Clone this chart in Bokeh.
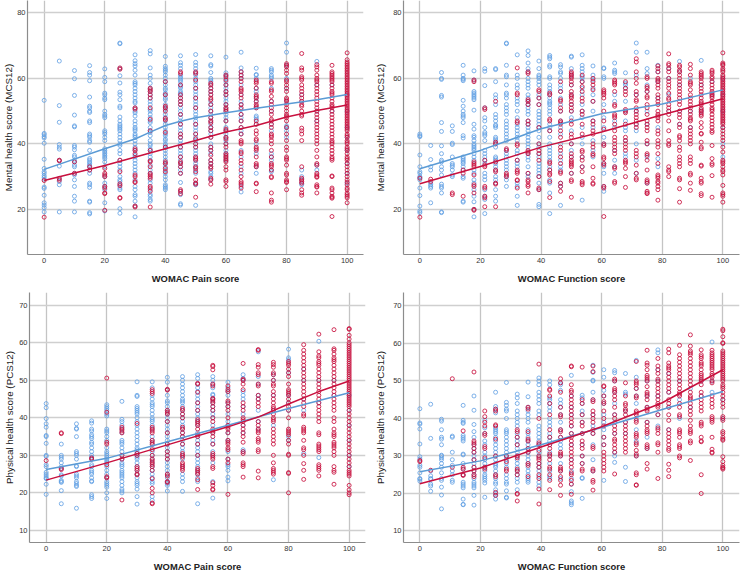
from bokeh.plotting import figure
from bokeh.layouts import column, row
from bokeh.embed import file_html
from bokeh.resources import INLINE

pain_x = [0, 5, 10, 15, 20, 25, 30, 35, 40, 45, 50, 55, 60, 65, 70, 75, 80, 85, 90, 95, 100]
func_x = [0, 3.57, 7.14, 10.71, 14.29, 17.86, 21.43, 25, 28.57, 32.14, 35.71, 39.29, 42.86, 46.43, 50,
          53.57, 57.14, 60.71, 64.29, 67.86, 71.43, 75, 78.57, 82.14, 85.71, 89.29, 92.86, 96.43, 100]

pain_mcs_blue = [
 [53.3,43.2,42.8,42.2,41.8,40.2,35.3,32.5,31.5,31,30.3,29.8,29.2,26.8,26.4,24.3,22,21.3,20.5,19.2],
 [65.3,51.7,46.6,39.8,39,38.4,35,33.2,29.5,28.5,27.5,19.2],
 [62.4,59.9,54.8,48.8,45.5,45.2,39.5,39,38.2,36.5,36,35,34.5,33.5,33,31,30.5,29,27,24,22.5,19.2],
 [63.9,61.8,61,59.3,54.3,51.5,51,50,49.6,47,46.5,43,42.5,42,41,40.5,38,35.5,35,34.5,34,33.5,33,32,31,28,27.5,26.7,22.5,22.2,19,18.6],
 [62.9,60.3,59,55.5,55,54,53.5,50,49,48.5,48,44,43.5,43,42,41,38.5,38,37.5,37,36.5,36,35.5,34.5,33,30,28,27,26,22,19.5],
 [70.8,70.6,63,60.8,58.6,55.8,55,53.5,51.5,51,48.2,47,46,45.5,45,44.5,44,43,42,41,40,39.5,38,37,35,34,33,32,30,29,28.5,27.5,26.5,26,20.2,18.8],
 [67.2,65.4,64.5,63.8,62.5,61,59,58.5,58,57,56,55,54,53,52.5,51,50,49.5,48.5,47,46,45,44.5,44,43,42.5,42,41,40,39,38,36.5,36,35,34,33,32,31,29,27,26,24.5,24,22.5,21,17.7],
 [68.5,67.5,63.2,61,60,58.5,57,56,55,54,53,52,50.5,50,49,48,47,46.5,45,44,43.5,42.5,41,40,39.5,38.5,38,37,36,35,33.5,32,31,29,28,26,24.5,24,23,22.5],
 [66.7,63.7,63,62.5,62,61,60,59,58,57,56.5,55.5,55,54,53.5,52,51,50.5,49,48,47,46,45,44,43,42.5,41.5,41,40,39.5,39,38,37,36,35,34,33,32,31,30,29,27.5,27,26.5,26],
 [66.9,64.8,64,63,61,60.5,60,59.5,59,58,57.5,57,56,55.5,55,54,53,52,51,50,49,48,47,46,45,44,43,42,41,40,39,38,37,36,35,34,33,32,31,28.2,25.5,24.5,21.7,21.3],
 [67.3,64.9,64,63,61.8,61,60,59,58,57,56,55,54,53,52,51,50,49,48,47,46,45,44,43,42,41,40,39,38,37,36,35,34,33,32,31,28,27.5,21.2],
 [66.9,64.2,63.8,61.8,60,59.5,59,58,57,56,55,53,52,51,50,49,48,47,46,45,44,43,42,40,39,38,37,35,34,33,31.5,31,30,29],
 [66.5,61.7,61,60,59,58,57,56,55,54,53,52,51,50,49,48,47,45,44,43,42,41,40,38,37,36,35],
 [68,63.2,62,61,60,58,55,53,52,50.5,49,48,47,45,44,43,38,36,33,31,27,25.3],
 [63.1,61.2,61,60,57,56,54,53,51,48.5,48,47.5,46,40,37,33,31],
 [63,62.5,62,61,60.5,60,57,53,50,46,44,37,36,35,32,31.5],
 [70.8,68,64,60,57,53,45.5,45,44,42],
 [55,53,32,30,29,28,27.5],
 [65.2,58,50,47,33.5,32],
 [58,50],
 [55,50,45,42,38,34,31,28],
]
pain_mcs_red = [
 [28.8,17.6],
 [35,34.8,29.4,28.9],
 [34.5,31],
 [33,32],
 [32.5,31,30.5,30,27,26.5,25,24.8,19.7],
 [63.2,62.8,35,31.5,27.8,27.2,23.6,23.4],
 [51,50.6,38.5,38,37,30.5,30,28.5,28.2,21,20.7],
 [57,56.5,56,55,54,51,47.5,44,38,34.8,34.5,33,31,30.5,30,29.5,27,26.5,25.5,20.7],
 [59,55,51.5,51,50,47.8,47.3,43.5,39,34.5,34,32.5,31.5],
 [62,61.5,58,55,54,53,52,49,46,43,42,39,36,34.5,34,33,31,26,25.5,24.8],
 [62,61.5,59.5,57,54,51,46,43,41.5,40,39,36,35.5,35,33,32.5,31.5,29,28,27.7,23.7],
 [58.5,58,57,56,55,54,53.5,52,50,48,47,46.5,45,44,42,39,38,36.5,35,34,33,32.5,29.5,29,27.7],
 [61,60.5,59.5,58,56,55,52,51,50.5,50,47,44.5,44,42,41.5,40,39,37,36.5,36,35.5,35,34.5,33,32,29,28.5,27],
 [62,61,60,59,57,56.5,56,55,54,52,51,49,47,45,43,41,40.5,40,37.5,37,35,34,32,30,28.5,28,27.5,26.5],
 [59.5,59,58.5,57,55,54.5,54,53,52,51.5,51,47,46,44,43,41.5,41,39,38.5,38,36,34,33.5,33,28,27.8,25.4],
 [59,58.5,56.5,56,54.5,53,52,51,50,49,47.5,47,46,45,43,42.5,42,41,40,38,36,34,33.5,33,32,30,29.7,25,22.8,22.2],
 [64.5,64,63.5,62.5,61.5,59.5,59,58,57,56,54,53.5,53,52,51,50,49,48.5,48,47,45,43,41,39,38,36,35.5,35,33.5,31,30.5,29,28.5,28.2,26],
 [67.6,63.2,62.5,60.5,60,59.5,58,57,56,55,54,53,52,51.5,50,49,48.5,44.8,44,43,41,33,29.5,29,28.5,28,26,25,24.3],
 [64.2,63.5,62.5,61,60,59.5,59,58,57,56,55,54,53,52,51,50,49,48,47,46,45,44,43,42,41,40,38,36,34,33.5,31,30.5,30,29.8,27.5,27,26.8,25],
 [64,62,61.5,61,60.5,60,59.5,59,58,57,56,55.5,55,54,53,52,51.5,51,50,49,48,47,46,45,44,43,42,41,40.5,40,39,38,37,36,35.5,35,30.2,30,26.5,26,25,24,23.7,23.4,17.8],
 [67.8,65.7,65,64.5,64,63.5,63,62.5,62,61.5,61,60.5,60,59.5,59,58.5,58,57.5,57,56.5,56,55.5,55,54.5,54,53.5,53,52.5,52,51.5,51,50.5,50,49.5,49,48.5,48,47.5,47,46.5,46,45.5,45,44.5,44,43,42.5,42,41,40.5,40,39,38.5,38,37,36,35.5,35,34,33,32,31,30,29,28.3,27.5,26.5,26,25,24.5,24,23.5,22],
]
func_mcs_blue = [
 [43,42.5,42.2,36.6,33,31.5,31,30,29.7,29,26.5,24.2,21,19.5,19],
 [39.5,35.2,33,32,28,27.5,27,26.5,22],
 [61.8,60,59.7,54.8,54.3,46.5,43.8,39.4,37,35,34.5,33,32,30.5,27.7,27,26.5,25,19.2,19],
 [45.5,43.8,40.2,39.8,36,34,33.5,33,32,30.5,30],
 [64,61,60,59.7,59.3,53.3,51.5,50,49,48.5,48,46.5,42.5,41.8,36,35.5,35,34.5,34,33,32,30,29.5,22.5,22.2],
 [62.3,59.5,56,55.5,55,54.5,54,53.5,50.3,46,44.5,42.5,42,41,40,39.5,39,38.5,38,37,36,35,32,31,29,28,26,24,22.3,20,17.7],
 [63,62.2,57.8,51,48,47,45,43.5,43,42.5,41,38,37,36,35,34,31,30,29,26,24,23,18.7],
 [63,62.7,59,55,54,52,49,48,47,45.8,45.5,45,42,41.5,41,40,39,36,35.5,35,34,33,32,30,29,28,26,24,22.5],
 [70.8,70.6,64,61,60.5,58,55.5,55,54,52,51,50,49,47,46,45,44,43,42,41,38,37,36,35,34,33,32,30,29,27],
 [67.2,61,60,58,57,54,53,52,50,48,46,45,44,43,42,41,38,37,35,34,33,28,27,24,21.2],
 [68.4,67,64.7,63,62,60,59,58,57,55,54,53,52,51,50,49,47,46,45,44,43,42,41,40,39,37,36,35,33,31,30],
 [65.3,63,61,60.5,60,59,58,55,54,52,50,49,48,47,46,45,44,42,40,39,37,36,34,33,32,31,30,28,26,21.5,20.8],
 [67,66.5,66,64,63.5,60.5,60,58,57,56,55,54,53,52.5,52,51,50,49,46,45,44,42,40,39,38,37,36,35,33,32,29,28,25,18.7],
 [64.2,63.5,62,61.5,60,58,57,56,54,52,50,47,45,43,40,37,35,33,32,28,27,21.2],
 [66.8,66.5,63,61,58,55,52,50,48,44,40,38,36,31],
 [67.2,64,63,62,60.5,60,59,57,55,52,50,48,45,42,40,36,33,22.8],
 [63.8,61,59.5,57,55,53,50,47,45,41,38,36],
 [63.2,63,60.5,60,52,48,45,42,40,34,33,31,27,25.5],
 [64.7,62.5,62,61.5,55,53,47,45,38,35,33,31],
 [61.7,58.5,58,57,53,50,47,45,44,41,37,36],
 [70.8,68,61,55,50,46,44,40,35,31],
 [68,63,61.5,58,56,50,46,40,36,28],
 [64,62,59,54,45,35.5,33],
 [63,60,55,50],
 [65.2,62,58,50,46],
 [60,50,45],
 [65.5,58,50],
 [59,55],
 [60,55,50,45,40,36],
]
func_mcs_red = [
 [29.5,17.6],
 [29.2,28.5],
 [],
 [25,24.5],
 [32,31,24],
 [59.5,59,34.5,34,33.5,33,30.5,27.5,27,25,20,19.7],
 [51,50.5,35,33.5,33,27,26.5,24,23.5,20.8],
 [53,40.5,40,34.5,32,31.5,28,27.7,20.8],
 [38.5,38,31,30.5,30],
 [63.2,55.5,55,47,46.5,40,39.5,35,32,31.5,31,29,28.8,26.5],
 [62,61.5,53.5,53,52,47,46,38,37.5,37,31,29,28.5,27.5,27,25],
 [56.5,56,54,52,45,40,38,37,35,30,26.5,26],
 [55.5,55,47.5,47,44,34.5,34,32,31,30.5,28.5,23.6],
 [59,56,53.5,53,51,50,47,46.5,46,44,42,39,38,36,34,31.5,31,28,27,25.5],
 [62,61.5,61,60.5,60,59,58,56,55,54.5,54,53,52,51,50,47,46,43,42,40,37,36,35,34.5,34,33.5,33,31,29,28.5,23.7],
 [61,59,57.5,56,54,53,50,49,46,43,38,37.5,36,35,33,31.5,28.5,28,27.5],
 [60,59,58,56.5,53,47,46,44,43,40,39,37,36.5,33,29.5,28,27.7],
 [56.5,56,55.5,55,54,50,47,44.5,40,39.5,36,35.5,34,33.5,27,26.5,17.8],
 [59.5,59,58.5,58,56,52,51.5,49,48.5,48,46,44,42,41,40,39,38,37,33,32.5,28.5,28],
 [59,57,56,55,50.5,50,49.5,46,42,41,40,39,38,35,34.5,34,32.5,30,26.7],
 [66,65,62,60,58.5,56,55,53.5,53,51,50,49,48,47,46,45,38,37,36,33.5,31,29.5,29],
 [60.5,60,57.5,57,56,54.5,54,52,51,49,47,46,45,44,41,40,37,36.5,35,32,29,28.5,28,25.5,25,24.8],
 [63.8,63,62,60,59.5,59,58,57,55,54,53,52,50,49,48.5,48,47,44,43,41,40,39,37,34,30.5,30,29.5,28.5,28,27,26,22.8],
 [67.5,64.5,64,63,62,60,59,58,57,55.5,54,53.5,52,51,50,49,47,44,41,40,39.5,33,32,31.5,30],
 [64,63.5,62.5,62,61,60,59,58,57,56,55,54,53,52,50,49,48,46,45,42.5,42,41,39,38,36,35,34,33,29.5,29,26.3,22.2],
 [64.3,63,61,59,58.5,58,56.5,55,54,53,52,51,50,49,48,47.5,47,45,44,43,42,41,40,36,35,34,31,30.5,28,25.8],
 [62,61.5,61,60.5,60,59,58,57,56,55,54,53,52.5,52,51,50.5,50,49.5,49,48.5,46.5,45,43.2,43,40.5,39,38.5,33.5,33.2,29.5,28.5,28,24.8,24.2],
 [62.5,62,61.5,60.5,60,59,58,57,56,55.5,55,54.5,54,53,52,51,50.5,50,49,48,47,46,45,44,43.5,39.5,35.5,34,33.5,30.3,23.7],
 [67.8,64.7,64.3,64,63,62.5,62,61,60.5,60,59.5,59,58.5,58,57.5,57,56.5,56,55.5,55,54.5,54,53.5,53,52.5,52,51.5,51,50.5,50,49.5,49,48.5,48,47.5,47,46.5,46,45,44,43,42,41,39,37.5,35,34.5,34,33,32,31.5,30.5,27.3,25,24.5,24,22.2],
]
pain_pcs_blue = [
 [43.8,42.7,39.8,38.4,37.5,35.3,35,33.2,30,29.7,27.5,27,25.5,25,24.5,24,23.8,22.3,19.6],
 [33,30,29.5,29,28,27,26.5,24.8,24.5,23.3,23,22.8,20.6,17.1],
 [38.4,37.2,37,35,31,30.5,30,29,27.2,27,25,24.5,24,23,22.5,22,21.7,15.9],
 [39.2,38.6,37,36.5,35.5,35,34.5,33.5,33,32,31,30,29.5,29,27.5,27,26,25.5,25,24,23.2,23,19.5,19,18.5],
 [43.5,43,42.5,42,41,40.5,37,36.5,36,35,34,32,31,30.5,30,29.5,29,28.5,28,27,26,25,24,23,22.5,22,21.5,20,18.5],
 [44.4,39.6,39,38,37,36,34,33.5,33,32,31,30,29,28,27.5,27,26,25.5,25,24.5,24,23,22,21,20.5,20],
 [49.6,46,45.7,43,42.5,42,41.5,41,40,39,38,37,36,35,34,33,32,31.5,31,30.5,30,29.5,29,28,27,26,25,24,23,22.5,22,21,19,17],
 [49.6,48,46,45,44,43.5,43,42,41,40,39.5,39,38,37,35,34,33,32,31,30,29,28,27,26,25,24,23,22.5,19,18],
 [50.8,49.5,47.5,46,44.5,44,43,42,41,40,39,38,37,36,35,34,33,32,31,30,29,28,27,26,25,24,23,22.5,22,20.5],
 [51,50,49,48,47,46,45,44.5,44,43,42,41,40,39,38,37,36,35,34,33,32,31,30,29,27,25,24,23,20.4],
 [51.5,50.5,49,48,47,46,45,44,43,42,41,40,39,38,36,35,34,33,32,31,30,29,28,27,26,25,24,23,17.1],
 [51,50,49,48,46.3,46,45,44,43,42,41,40,38,36,34,33,31,30,28,23,18.6],
 [49.5,48,47,46,44,43,41,39,38,36,34,31,29,27.5,27,26,24.2,23.2],
 [51.5,50.5,50,47,46,45,43,41,38,36,31.5,31],
 [57.6,51,49,46,45,42,39,37],
 [51.5,50,46,42,38,23.5],
 [58.3,56,55.5,52,46,44,42,35,34],
 [53,50,45,42,30.5],
 [60.4,50,44,29.4],
 [50,46],
 [46,42,38,34,30,27],
]
pain_pcs_red = [
 [28.6],
 [36,35.8,26.5,26.2],
 [],
 [29.3,29],
 [50.6,41.5,33.5,33,27.5,24.3,24],
 [37.5,37,36.5,36,30,29,18.1],
 [38.5,30.5,30,27,26.5,26,25,24.8],
 [47.5,47,46.5,37.5,37,36.5,36,34,33.5,33,31.5,30,29,28.5,28,27.5,27,26,23.8,21.2,20,17.3,17.1],
 [47.6,47.4,42,41.5,41,39,36,33,31,30,29,25,24.5,23,22.8],
 [42.5,42,41,40,37.5,37,36,35,33,30.5,30,29.5,28,27.5,27,26.5,26],
 [49.2,49,46.8,44,42,39.5,39,38.5,38,37,35.5,35,33,30,26.5,26,25.5,25,23.5,20.9],
 [54,53.7,52.8,49,48.5,45.2,45,44.5,44,43,42,40,39,37,36.5,36,35,33,30.5,30,29.5,29,27,26.5,22.7,22,21,20.8],
 [48.5,47.5,47,44.5,44,43,42,40,38,37.5,37,36,34,33.5,33,32,31.5,29,28,19.6],
 [54.5,50.3,50,49,47.5,44,43,42,40,39.5,39,38,37,36,35,33.5,31,30.5,28,27.5,27,24.2],
 [58.2,58,54.2,53.5,52,51.5,49,48.5,46,45,44,43,39,38,37,36.5,36,34.5,34,33.5,31.5,31,25.8,24],
 [54.8,54.2,53.5,52,51.5,50,49,48.5,47,46,45,44,43,42.5,42,41,40,39.5,39,37,36,35,34,33,30,28,26.5,26,25.5,25],
 [55,54.5,54,53,52,51,49,47.5,47,46.5,46,45,44,43,42,40,37,36.5,36,35.5,34,33,30.3,30,25.4,25.2,20],
 [59.5,58,57,56,55,54,53,52,51,50,49,48,47,46,45,44,43,41,40.5,37.5,37,36.5,36,34,32,31.5,30,27.8,26,23.6],
 [62.3,57.6,56.5,56,55,54.5,54,53,52,51,50,49,48,47,46,45,44,43,42,41,40,39,36,35.5,33,32.5,32,31.5,31,27.5,27,26.5,26,24.5],
 [63.5,58.4,58,57,56,55.5,55,54,53,52,51,50,49,48,47,46,45,44,43,42,40,39,37,36,35.5,35,33.5,33,32.5,32,31,30,27,26,25.5,22.3],
 [63.8,63.6,62,61,60,59.5,59,58.5,58,57.5,57,56.5,56,55.5,55,54.5,54,53.5,53,52.5,52,51.5,51,50.5,50,49.5,49,48.5,48,47.5,47,46.5,46,45.5,45,44.5,44,43.5,43,42,41,40,39,38,37,36,35,34,33,32,31,30,29,28,27,26,25.5,25,24.5,22,20.8,20,19.5],
]
func_pcs_blue = [
 [42.6,38.8,38.5,37.2,33.2,29.8,29.2,27.5,27,25.5,24,23.8,23.3],
 [43.8,34.7,26,24.7,24,23.8,22.5,22,20.6],
 [39.8,39.3,37,35,34.5,33,30.2,30,29.5,29,28,27,25.5,24,23.5,21.7,19.6,15.9],
 [35.3,35,31,29,27.5,26,25,23.5,23],
 [43.5,39.5,39,38.7,35.5,35,34.5,34,30.5,30.3,28,26.5,25,23,22.5,22,21.5,18.5,17.1,17],
 [46,42.2,38.4,36.5,35,33,32,31,30,29,28,27,26,25,24,23,22.5,22,21.5,19.5,16.9],
 [39.5,37.5,36,34,33,31,30,29,28,27,26,25,24.5,24,23.5,22.8,19],
 [47,43.2,42.5,41.5,37.5,37,36.5,36,35,34,33,32,31,30,29,28,27.5,27,26,25,24,23,22.5,21,20,19.5,18.5],
 [49.6,44.3,43.5,42.5,42,40,37,36.5,36,35,34,33,32,31,30,29.5,29,28,27,25,24,23,22.5,20.7,19,18.8],
 [46.5,45.5,44,42,41,40,39,38,36,35,34,33,32,31,30,29,28,27,26,25,24,23,21],
 [49.7,45.8,43,42,41,40,39,37,36,35,34,33,32,31,30,29,28,27,26,25,24,23.5,23],
 [50.8,50,49,47,46,45,44,42,41,38,37,36,35,34,33,31,30,28,27,26,24.5,23,22],
 [50,49,45.5,45,44,43,42,40,39,38,36,35,34,33,31,30,28,26,24.5,24],
 [49.5,49,47.5,45,44,43,41,39,37,35,34,33,32,30,28,26,24],
 [51.5,46,43,41,38,36,33,29,26,24,22.5,20.5,18,17.5,17],
 [46.2,45.5,44,42,41,39,36,33,30,28,24.2,24,18.7],
 [54.2,52.3,50.2,50,47,45,41,38,36,33,29,26],
 [53,51,47.5,46,44,41,39,37,35,33,23.5],
 [52.8,52.2,50,47,44,41,39,36,31,30,28.3],
 [52,47,46.5,42,39,36,27,23.2],
 [55.5,51,48,46,44,40,37,34,30],
 [50,46,43,39,35,32],
 [58.3,57.5,53,50,46,41,38],
 [52,47,43,37],
 [50,45,40],
 [48,43],
 [50,46],
 [60.4,50,47],
 [45,40],
]
func_pcs_red = [
 [28.8,28.5],
 [26.2],
 [],
 [50.6,27],
 [36.7,27,26.5,25,24.8],
 [52.4,34,33.5,33,32,31,29,27,26,25,24.5],
 [42,40.5,39,38,36,35.5,32.5,32,29.5,27,26.5],
 [42.5,42,38.3,38,34.5,30,25,24.5,20.3,19.5],
 [30,28.5,26.5,26],
 [37,36.5,35,33,30,29.5,26.5,26,25,20,19.8,18],
 [43,42.5,36.5,34.5,34,32,31,28,27.5,24.5],
 [54.5,40,33.5,33,31.5,30,29.5,29,28,27,25,24,21.2,17.2],
 [47.8,47.5,46,44,41,37,35,33,32,30.5,30,29,27,26.5,25,23.5,21],
 [50.6,49.5,47,43,41,40.5,37,36.5,35,31,30.5,30,27,26.5,26,24.5,23.5,22.2,19.5],
 [54,53.8,49,47.5,47,46,45,44,43,42,41,40,39,38,36,35,34,33,32,31,30,29,28,27,25.5,25,23.5,22.5,19.8],
 [53.7,45,44,41,39,38,36,34,33,32,30,28,26.5,26],
 [54,52.5,45,44.5,42,41,40,39,37,36,32.5,32,26.5,26,23.5,23,20.9],
 [48.7,48.5,46,44.5,44,42,40,38,35,33,31,30,29,28,27,26],
 [50.5,50,48,47.5,47,46,45,43,41,40,38,37,36,34.5,34,33,32,31,25.2],
 [49.5,46,44,43.5,42.5,42,41,39,38,37,36,35,34,33,32,31],
 [55.2,50,49.5,49,48,46,45.5,42,41.5,41,39.5,39,36,35.5,35,33.5,33,31.5,30.5,30,25.5,25,22.3,22.2],
 [58.2,54.8,54.2,53,51.5,51,50.5,50,48.5,47,46.5,46,45,43,42.5,42,39,38,37,36.5,36,33,32.5,32,28,26.5],
 [56,54,53,52,50.5,50,49,48,47,46,45,44,43.5,43,41,37.5,37,36,33.5,33,31,24],
 [58.5,57.5,54.8,54,53.5,53,52,51,50,49,48,47,45,44,43,41,39.5,37,36,35,34,33,32,31.5,27.8,26.2,24.5],
 [59.5,57,56,55,54,53,52,51,50,49,48,47,46.5,46,44,43,41,40.5,37,36.5,36,35,33,32.5,32,30,29.5],
 [62.3,59.3,58,57.5,57,56,55,54,53,52,51,50,49,47,46,45.5,45,44,43,42,41,39.5,38,37,36.5,36,34,33.5,28.8],
 [58.3,57,56.5,56,55,54.5,54,53,52,51.5,51,50.5,50,49,47,46,45,44,43,42,39,38.5,38,35,34,33.8,25,20],
 [58.2,57.5,57,56.5,56,55.5,55,54.5,54,53.5,53,52,51.5,51,50,49.5,46,45,44,43,40.5,40,39.5,39,35,31.8,31,30.8],
 [63.8,63.4,61.8,60.2,60,58,57.5,57,56.5,56,55.5,55,54.5,54,53.5,53,52.5,52,51.5,51,50.5,50,49,48.5,48,47,46,45,44,43,40.5,40,39.5,36.5,36,35,34.5,34.2,29.8,28.5,27.5,27,26.8,26.5],
]

pain_mcs_fit_x_blue = [0, 20, 30, 35, 40, 45, 50, 60, 70, 80, 90, 100]
pain_mcs_fit_y_blue = [32.2, 38.5, 41.5, 43.6, 45.6, 46.9, 48, 49.5, 50.9, 52.2, 53.5, 55.1]
pain_mcs_fit_x_red = [0, 20, 40, 50, 60, 70, 80, 90, 100]
pain_mcs_fit_y_red = [28.8, 33.4, 38.5, 41, 43.6, 45.6, 48.2, 50.2, 51.9]
func_mcs_fit_x = [0, 20, 40, 60, 80, 100]
func_mcs_fit_y_blue = [32.4, 38, 44.6, 49.2, 52.2, 56.5]
func_mcs_fit_y_red = [27.8, 33.1, 39, 43.6, 48.9, 53.8]
pain_pcs_fit_x_blue = [0, 20, 40, 60, 80, 100]
pain_pcs_fit_y_blue = [26.2, 29.2, 33.6, 38, 42.5, 46.7]
pain_pcs_fit_x_red = [0, 20, 40, 60, 70, 80, 90, 100]
pain_pcs_fit_y_red = [23.4, 28, 32.8, 37.6, 40.2, 43.7, 47, 49.8]
func_pcs_fit_x = [0, 20, 40, 60, 80, 100]
func_pcs_fit_y_blue = [25.8, 28.7, 33, 37.6, 42.4, 47.2]
func_pcs_fit_y_red = [22.6, 26.8, 32.4, 37.8, 44.2, 53]

BLUE = "#5f9fe3"
RED = "#c8103e"
FONT = "Liberation Sans"


def flat(xs, cols):
    xx, yy = [], []
    for x, c in zip(xs, cols):
        for v in c:
            xx.append(x)
            yy.append(v)
    return xx, yy


def panel(xs, blue, red, fit_b, fit_r, xlabel, ylabel, xr, yr, yticks, fw, fh, left, right, top, bottom, yl_standoff):
    p = figure(width=left + fw + right, height=top + fh + bottom, x_range=xr, y_range=yr,
               output_backend="svg", toolbar_location=None,
               min_border_left=left, min_border_right=right, min_border_top=top, min_border_bottom=bottom,
               outline_line_color=None, background_fill_color="white", border_fill_color="white")
    p.xaxis.ticker = [0, 20, 40, 60, 80, 100]
    p.yaxis.ticker = yticks
    for ax, lab in ((p.xaxis[0], xlabel), (p.yaxis[0], ylabel)):
        ax.axis_label = lab
        ax.axis_label_text_font = FONT
        ax.axis_label_text_font_style = "normal"
        ax.axis_label_text_font_size = "9.8px"
        ax.axis_label_text_color = "#222222"
        ax.major_label_text_font = FONT
        ax.major_label_text_font_size = "7.5px"
        ax.major_label_text_color = "#333333"
        ax.major_tick_line_color = None
        ax.minor_tick_line_color = None
        ax.axis_line_color = "#8c8c8c"
        ax.axis_line_width = 1.2
        ax.major_tick_in = 0
        ax.major_tick_out = 0
    p.xaxis[0].major_label_standoff = 3
    p.xaxis[0].axis_label_standoff = 7
    p.xaxis[0].axis_label_text_font_style = "bold"
    p.xaxis[0].axis_label_text_font_size = "9.4px"
    p.yaxis[0].major_label_standoff = 2
    p.yaxis[0].axis_label_standoff = yl_standoff
    p.xgrid.ticker = [0, 20, 40, 60, 80, 100]
    p.ygrid.ticker = yticks
    p.xgrid.grid_line_color = "#c4c4c4"
    p.ygrid.grid_line_color = "#cfcfcf"
    p.xgrid.grid_line_width = 1.3
    p.ygrid.grid_line_width = 1.3
    bx, by = flat(xs, blue)
    rx, ry = flat(xs, red)
    p.scatter(bx, by, size=4, marker="circle", fill_color=None, line_color=BLUE, line_width=1, line_alpha=0.8)
    p.scatter(rx, ry, size=4, marker="circle", fill_color=None, line_color=RED, line_width=1, line_alpha=0.85)
    p.line(fit_b[0], fit_b[1], line_color="#5b9bd5", line_width=1.5)
    p.line(fit_r[0], fit_r[1], line_color="#c8103e", line_width=1.5)
    return p


p1 = panel(pain_x, pain_mcs_blue, pain_mcs_red, (pain_mcs_fit_x_blue, pain_mcs_fit_y_blue),
           (pain_mcs_fit_x_red, pain_mcs_fit_y_red), "WOMAC Pain score", "Mental health score (MCS12)",
           (-5.5, 105.4), (6.2, 83.8), [20, 40, 60, 80], 336, 254, 27, 7, 0, 33, 0)
p2 = panel(func_x, func_mcs_blue, func_mcs_red, (func_mcs_fit_x, func_mcs_fit_y_blue),
           (func_mcs_fit_x, func_mcs_fit_y_red), "WOMAC Function score", "Mental health score (MCS12)",
           (-5.4, 105.5), (6.2, 83.8), [20, 40, 60, 80], 336, 254, 33, 1, 0, 33, 4)
p3 = panel(pain_x, pain_pcs_blue, pain_pcs_red, (pain_pcs_fit_x_blue, pain_pcs_fit_y_blue),
           (pain_pcs_fit_x_red, pain_pcs_fit_y_red), "WOMAC Pain score", "Physical health score (PCS12)",
           (-5.5, 105.4), (6.77, 73.41), [10, 20, 30, 40, 50, 60, 70], 336, 254, 29, 5, 5, 28, 1)
p4 = panel(func_x, func_pcs_blue, func_pcs_red, (func_pcs_fit_x, func_pcs_fit_y_blue),
           (func_pcs_fit_x, func_pcs_fit_y_red), "WOMAC Function score", "Physical health score (PCS12)",
           (-5.4, 105.5), (6.93, 73.6), [10, 20, 30, 40, 50, 60, 70], 336, 254, 33, 1, 3, 30, 4)

page = column(row(p1, p2, spacing=0), row(p3, p4, spacing=0), spacing=0)
open("out.html", "w").write(file_html(page, INLINE))
